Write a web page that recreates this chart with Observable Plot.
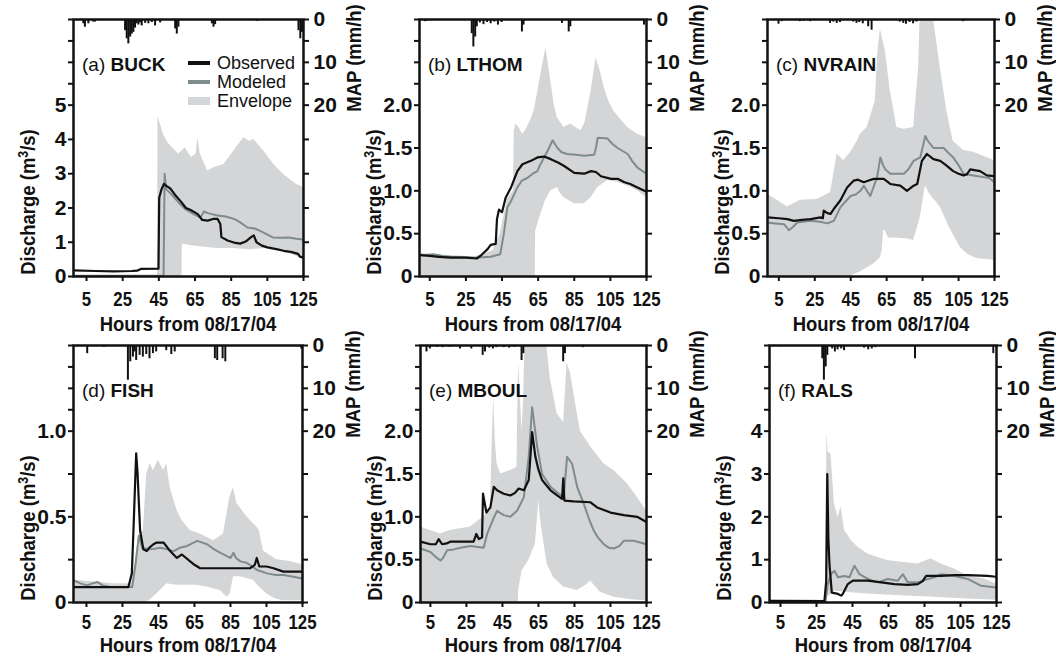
<!DOCTYPE html>
<html><head><meta charset="utf-8">
<script src="https://cdn.jsdelivr.net/npm/d3@7"></script>
<script src="https://cdn.jsdelivr.net/npm/@observablehq/plot@0.6"></script>
<style>
html,body{margin:0;padding:0;background:#fff;}
#wrap{position:relative;width:1056px;height:660px;overflow:hidden;font-family:"Liberation Sans Narrow","Arial Narrow","Liberation Sans",Arial,sans-serif;color:#111;}
#wrap svg{position:absolute;overflow:visible;}
.t{position:absolute;white-space:nowrap;font-weight:bold;font-size:21px;line-height:1;}
.rot{transform:translate(-50%,-50%) rotate(-90deg) scaleX(0.88);}
.ctr{transform:translate(-50%,-50%) scaleX(0.88);}
.pl{position:absolute;white-space:nowrap;font-size:19px;line-height:1;}
.pl b{font-weight:bold;}
.lg{position:absolute;font-size:18px;line-height:1;white-space:nowrap;}
.sw{position:absolute;}
</style></head>
<body><div id="wrap"></div>
<script>
const hourTicks = [5, 25, 45, 65, 85, 105, 125];
const mapTickValues = [0, 5, 10, 15, 20];

// (a) BUCK
const obsA = [[-2.2,0.18],[10,0.16],[20,0.15],[30,0.16],[33,0.17],[35,0.22],[44.8,0.23],[45.2,2.3],[46.5,2.55],[47.8,2.7],[49,2.65],[51.5,2.56],[54,2.38],[57,2.2],[60,2.0],[62.6,1.94],[66.5,1.82],[69,1.65],[72,1.63],[75,1.68],[77.5,1.68],[79,1.53],[79.6,1.15],[83,1.05],[86.5,0.99],[90,0.96],[93,1.02],[96,1.15],[97.5,1.2],[99,1.0],[102,0.9],[105,0.85],[110,0.8],[114,0.75],[118,0.72],[122,0.66],[123,0.58],[125,0.55]];
const modA = [[-2.2,0.02],[47.6,0.02],[48.2,3.0],[49,2.55],[52,2.4],[57,2.1],[60,1.95],[64,1.83],[68,1.72],[70,1.9],[72,1.85],[77.5,1.78],[82,1.75],[86.7,1.68],[90,1.58],[94,1.43],[98,1.4],[101,1.33],[104,1.25],[108,1.14],[112,1.13],[117,1.14],[121,1.1],[125,1.08]];
const envHiA = [[44.3,0],[44.5,4.68],[47.5,4.15],[50,3.9],[52.6,3.76],[56,3.57],[59.5,3.76],[63,3.47],[65.6,3.57],[66.5,4.05],[68,3.57],[72,3.08],[75.6,3.18],[81,3.27],[86.5,3.66],[92,4.05],[95,3.95],[97.5,4.0],[103,3.66],[108.6,3.27],[114,2.98],[121,2.69],[125,2.6]];
const envLoA = [[57.8,0],[58,0.95],[63,0.9],[68,0.87],[77,0.82],[86,0.82],[95,0.78],[104,0.82],[113,0.73],[122,0.58],[125,0.53]];
const mapA = [[3.5,1],[4.4,1.8],[6.3,1],[9,0.6],[10,0.6],[26.6,2.6],[27.5,4.5],[28.4,5.7],[29.4,4.1],[30.3,3.4],[31.2,3],[32.1,2],[33,1],[34,1.3],[35,0.8],[35.8,1.5],[37.7,0.9],[39.5,1],[41.4,0.7],[43.2,1.5],[46,0.8],[54.3,2.2],[55.2,3.4],[56.1,1.8],[74.6,1],[75.5,1.8],[76.4,1.2],[99.5,0.4],[122.5,2.6],[123.5,4.5],[124.4,3]];

// (b) LTHOM
const obsB = [[-0.7,0.25],[5,0.24],[10,0.23],[16.5,0.22],[25,0.22],[31,0.21],[33,0.24],[35,0.28],[37,0.32],[38.7,0.37],[41.5,0.38],[42.2,0.67],[43.3,0.78],[45,0.75],[47,0.92],[50,1.04],[53.5,1.23],[56.3,1.31],[61,1.35],[64.6,1.39],[68.3,1.4],[72,1.37],[76,1.33],[79.4,1.29],[85,1.21],[90.5,1.2],[94.3,1.23],[97,1.22],[99.8,1.17],[105.4,1.14],[109,1.14],[112.8,1.1],[116,1.08],[120,1.04],[125,0.99]];
const modB = [[-0.7,0.25],[3,0.25],[7,0.26],[12,0.24],[16.5,0.23],[30,0.22],[38.7,0.23],[44,0.26],[46,0.5],[48,0.81],[50,0.88],[53.5,1.04],[56,1.12],[59,1.15],[62,1.2],[64.6,1.23],[66,1.3],[68.3,1.39],[71,1.5],[73,1.59],[75.7,1.5],[78,1.45],[81,1.43],[86,1.42],[90.5,1.41],[96,1.42],[97,1.5],[98,1.62],[103.5,1.61],[106,1.55],[109,1.5],[114.6,1.43],[117,1.35],[120,1.27],[125,1.2]];
const envHiB = [[-0.7,0.27],[10,0.25],[30,0.23],[40,0.3],[44,0.5],[48,0.9],[51.3,1.0],[51.8,1.7],[52.6,1.78],[54.4,1.74],[56.3,1.66],[58,1.7],[61,1.83],[63,1.95],[66.5,2.36],[69.3,2.67],[71,2.43],[73.9,2.0],[75.7,1.85],[79.4,1.74],[83,1.78],[88.7,1.7],[91,1.8],[94.3,2.16],[97,2.55],[99,2.43],[101.7,2.2],[104,2.05],[107,1.93],[110,1.85],[114.6,1.74],[120,1.66],[125,1.62]];
const envLoB = [[63.4,0],[63.6,0.53],[66.5,0.73],[69,0.88],[72,1.0],[75.7,1.04],[77,0.98],[79.4,0.92],[85,0.85],[90.5,0.85],[94.3,0.92],[98,1.04],[103.5,1.12],[109,1.1],[116.5,1.04],[120,1.0],[125,0.92]];
const mapB = [[2.6,0.5],[3.5,0.4],[6,0.3],[8,0.3],[28.5,3.3],[29.4,6.4],[30.4,4.1],[31.3,1.7],[33,0.8],[35,1.2],[37,0.7],[39,1.0],[41,0.6],[43,1.3],[45,0.7],[56.3,2.9],[57.2,1.3],[78.5,0.9],[82.2,2.9],[83.1,1.7],[123.9,1.3]];

// (c) NVRAIN
const obsC = [[-1.3,0.69],[5,0.68],[9.7,0.67],[13.4,0.65],[18,0.66],[22.7,0.67],[28.2,0.69],[29.5,0.68],[30,0.77],[32,0.74],[33.8,0.73],[36,0.8],[39.3,0.89],[43,1.04],[46.7,1.12],[49,1.13],[52.3,1.1],[55,1.12],[57.8,1.14],[63.4,1.14],[67,1.08],[72.6,1.06],[76.3,1.0],[80,1.06],[82,1.08],[84.6,1.35],[87.4,1.43],[91,1.37],[94.8,1.35],[98,1.3],[102,1.23],[105,1.2],[107.8,1.18],[109.5,1.19],[111.5,1.25],[117,1.23],[120.7,1.18],[125,1.17]];
const modC = [[-1.3,0.63],[3,0.62],[7.9,0.61],[10.6,0.54],[13,0.58],[15.3,0.63],[22.7,0.65],[28,0.64],[32,0.62],[35.6,0.65],[39.3,0.81],[44.9,0.94],[48,0.96],[50.4,1.0],[52.3,1.06],[54,1.0],[55.9,0.94],[59.7,1.16],[61.5,1.39],[63,1.3],[64.3,1.25],[67,1.2],[70,1.2],[74.5,1.2],[77,1.25],[80,1.35],[83.7,1.39],[86.5,1.64],[88,1.58],[91,1.5],[96.7,1.5],[99,1.45],[102,1.39],[105,1.3],[107.8,1.2],[113.3,1.18],[118.9,1.16],[122,1.15],[125,1.1]];
const envHiC = [[-1.3,0.96],[4.2,0.89],[9.7,0.81],[17.1,0.89],[26.4,0.9],[33.8,0.98],[37.5,1.43],[41.1,1.35],[45,1.45],[48.6,1.58],[50.4,1.66],[54.1,1.74],[58.7,2.05],[60,2.6],[61.5,2.89],[64.3,2.63],[67,2.17],[70.7,1.74],[74.5,1.72],[80,1.74],[82.8,2.44],[84,3.3],[90,3.3],[91,3.02],[94.8,2.44],[98.5,1.93],[102,1.58],[107.8,1.47],[113.3,1.45],[120.7,1.39],[125,1.35]];
const envLoC = [[-1.3,0],[40,0],[45,0.01],[50,0.05],[54,0.1],[58,0.15],[61.5,0.22],[62.5,0.3],[63.4,0.55],[64.5,0.52],[66,0.45],[70,0.45],[76,0.44],[80,0.42],[83.7,0.69],[86.5,1.06],[89,0.96],[94.8,0.81],[100,0.57],[105.9,0.34],[110,0.26],[115,0.21],[125,0.19]];
const mapC = [[5.1,1.1],[6.9,0.5],[17,0.5],[19,0.4],[22.7,0.5],[33.8,0.9],[35.6,0.6],[37.5,0.9],[39.3,0.7],[46.7,0.6],[48.5,0.9],[50,0.7],[52,1.0],[55,1.7],[56.9,2.5],[72.6,0.6],[74.5,0.9],[76,1.1],[78,0.7],[80,1.0],[81.9,0.6],[107.8,0.5]];

// (d) FISH
const obsD = [[-2.2,0.09],[10,0.09],[20,0.09],[28.3,0.09],[30.2,0.17],[31.1,0.42],[32.6,0.87],[33.3,0.77],[34.8,0.42],[36.6,0.31],[38.5,0.3],[40,0.32],[42.2,0.34],[44,0.35],[47.8,0.35],[51.5,0.3],[55.2,0.26],[58,0.28],[62.6,0.24],[65,0.22],[68.1,0.2],[75.6,0.2],[86.7,0.2],[96,0.2],[98.5,0.22],[99.6,0.26],[101,0.21],[105,0.21],[108.9,0.2],[114.4,0.18],[125,0.18]];
const modD = [[-2.2,0.13],[2,0.11],[5.4,0.1],[8,0.11],[11,0.12],[14,0.1],[18.4,0.09],[27.6,0.09],[30.4,0.09],[32.2,0.22],[34.1,0.39],[36,0.32],[40.6,0.31],[46.1,0.32],[50,0.31],[53.5,0.3],[57,0.32],[60.9,0.33],[66.5,0.36],[72,0.34],[76,0.31],[79.4,0.29],[83,0.27],[85,0.26],[86.7,0.29],[88,0.26],[90.6,0.24],[94.3,0.23],[97,0.21],[99.8,0.19],[105.4,0.17],[110,0.16],[114.6,0.16],[120,0.15],[125,0.14]];
const envHiD = [[-2.2,0.13],[10,0.12],[20,0.11],[30,0.11],[31,0.15],[34,0.38],[36.6,0.42],[38.5,0.75],[40.3,0.81],[42.2,0.77],[44.9,0.83],[47.8,0.77],[49.6,0.81],[51.5,0.67],[55.2,0.54],[58,0.48],[62.6,0.42],[68.1,0.4],[75.6,0.36],[81.1,0.4],[84.8,0.62],[86.7,0.67],[88.5,0.58],[94.1,0.5],[99.6,0.44],[101,0.42],[103.3,0.3],[110.7,0.25],[118.1,0.24],[125,0.22]];
const envLoD = [[38,0],[41,0.02],[44,0.05],[47,0.08],[49.6,0.11],[55,0.1],[60.7,0.1],[66,0.1],[72,0.09],[79.4,0.07],[83,0.03],[84.8,0.05],[86.7,0.15],[90.4,0.15],[97.8,0.13],[101,0.09],[105.2,0.05],[110,0.02],[114.4,0.01],[125,0.01]];
const mapD = [[5.7,1.9],[15,0.4],[28.3,8.1],[29.6,3.8],[31.1,2.7],[32,1.5],[32.9,3.5],[34.8,2.3],[36.6,2.7],[38.5,2.1],[40.3,3.1],[42.2,1.9],[44,1.5],[49.6,1.2],[52.4,2.1],[54.3,1.5],[76.6,3.1],[77.9,3.5],[80.9,3.1],[82.4,3.8],[124.6,0.8]];

// (e) MBOUL
const obsE = [[-0.5,0.71],[5,0.68],[8,0.68],[9.6,0.74],[11.5,0.68],[14,0.69],[16,0.71],[22,0.71],[29,0.71],[30.5,0.8],[31.9,0.74],[33.7,0.76],[34.2,1.27],[36.1,1.05],[38.3,1.11],[40.2,1.35],[42,1.31],[45.7,1.27],[49.4,1.25],[52,1.28],[54,1.33],[56.9,1.31],[59.6,1.43],[61.5,1.99],[63.3,1.7],[65,1.55],[67,1.43],[71.7,1.31],[75.4,1.25],[78.1,1.21],[78.8,1.45],[79.4,1.19],[84.6,1.18],[93.9,1.17],[97.6,1.11],[105,1.05],[112.4,1.02],[119.8,1.0],[125,0.94]];
const modE = [[-0.5,0.63],[5,0.59],[8,0.53],[10.6,0.49],[12,0.52],[14.3,0.61],[18,0.62],[21.7,0.64],[27.2,0.66],[34.6,0.64],[36.5,0.8],[40,0.98],[42,1.07],[45.7,1.02],[49.4,1.0],[53.1,1.07],[56.9,1.23],[59.6,1.7],[61.5,2.28],[64.3,1.82],[67,1.5],[71.7,1.35],[76.3,1.27],[79,1.23],[80.9,1.7],[83.7,1.62],[86.5,1.35],[90.2,1.15],[93,0.98],[95.7,0.84],[98,0.76],[101.3,0.68],[104,0.64],[106.9,0.63],[110,0.66],[112.4,0.72],[118,0.72],[125,0.68]];
const envHiE = [[-0.5,0.88],[5,0.84],[10.6,0.8],[16,0.84],[27.2,0.88],[34.6,1.0],[38.3,1.07],[39.5,2.0],[40.2,2.4],[41,1.9],[42,1.62],[44,1.5],[49.4,1.54],[53.1,1.58],[53.6,2.4],[54,2.8],[55.9,2.0],[56.8,2.4],[57.8,3.3],[68,3.3],[71.7,2.6],[75.4,2.2],[79,2.1],[80.9,2.8],[82.8,2.68],[85,2.4],[88.3,2.0],[93.9,1.82],[101.3,1.62],[106.9,1.54],[114.3,1.39],[119.8,1.23],[125,1.07]];
const envLoE = [[53.9,0],[54,0.14],[55.9,0.37],[59.6,0.49],[63.3,0.68],[64.5,1.0],[65.2,1.19],[66,1.0],[67,0.84],[69.8,0.45],[73.5,0.29],[79,0.18],[86.5,0.14],[92,0.21],[93.9,0.25],[96,0.2],[99.4,0.12],[106.9,0.06],[118,0.03],[125,0.02]];
const mapE = [[3.1,1.5],[5,0.8],[9,0.4],[12,0.5],[16,0.4],[21.7,0.8],[28,0.8],[34.3,2.3],[35.6,1.5],[38,0.6],[40,0.8],[42,0.5],[46,0.5],[49,0.6],[52,0.4],[55.9,3.5],[56.9,1.9],[79,3.8],[80,1.9],[90,0.5]];

// (f) RALS
const obsF = [[-1.1,0.04],[29.4,0.03],[30.4,0.5],[31,3.0],[31.6,1.5],[32.2,0.9],[33.5,0.23],[36.9,0.2],[38.7,0.16],[39.6,0.2],[42.4,0.43],[45.2,0.51],[53.5,0.51],[61,0.47],[68.3,0.43],[75.7,0.41],[81.3,0.43],[84,0.5],[85.9,0.62],[94.3,0.62],[101.7,0.64],[109,0.64],[120,0.62],[125,0.6]];
const modF = [[-1.1,0.02],[30,0.02],[31.3,0.43],[33,0.66],[35,0.74],[36.9,0.59],[40.6,0.62],[43.3,0.59],[46.1,0.86],[48.9,0.66],[53.5,0.55],[59,0.47],[64.6,0.55],[70.2,0.51],[73,0.66],[75.7,0.47],[81.3,0.47],[86.9,0.55],[90.6,0.59],[94.3,0.66],[101.7,0.62],[109,0.55],[116.5,0.39],[125,0.35]];
const envHiF = [[-1.1,0.05],[30,0.05],[30.8,3.95],[31.5,3.5],[33,3.48],[35,2.3],[36.9,1.99],[38.7,2.23],[40.6,1.68],[44.3,1.45],[48,1.29],[53.5,1.13],[59,1.05],[64.6,0.98],[72,0.94],[81.3,0.9],[88.7,1.02],[94.3,0.9],[101.7,0.78],[109,0.62],[118.3,0.55],[125,0.43]];
const envLoF = [[30.8,0],[31,0.12],[35,0.27],[44.3,0.23],[53.5,0.2],[72,0.16],[90.6,0.12],[109,0.08],[125,0.05]];
const mapF = [[5,0.3],[28.5,3.1],[29.4,8.1],[30.4,5],[31.3,2.3],[34,0.8],[35.5,1.5],[37,1.0],[39,0.8],[40.6,1.2],[51.7,0.6],[54,1.0],[56,0.8],[58,0.5],[80,3.1],[123.5,1.9]];

const COL_OBS = "#111111", COL_MOD = "#7e8c8c", COL_ENV = "#d4d5d7";
const FONT = '"Liberation Sans Narrow","Arial Narrow","Liberation Sans",Arial,sans-serif';

const fmtInt = d => String(d);
const fmtHalf = d => d === 0 ? "0" : d.toFixed(1);
const fmtD = d => d === 0 ? "0" : (Math.abs(d * 2 - Math.round(d * 2)) < 1e-9 ? d.toFixed(1) : "");

const panels = [
  {tag:"(a)", name:"BUCK", left:0, top:0, ml:73, mr:49, x0:-2.2, L:5, step:1, fmt:fmtInt, obs:obsA, mod:modA, hi:envHiA, lo:envLoA, map:mapA},
  {tag:"(b)", name:"LTHOM", left:352, top:0, ml:67, mr:58, x0:-0.7, L:2, step:0.5, fmt:fmtHalf, obs:obsB, mod:modB, hi:envHiB, lo:envLoB, map:mapB},
  {tag:"(c)", name:"NVRAIN", left:704, top:0, ml:63, mr:62, x0:-1.3, L:2, step:0.5, fmt:fmtHalf, obs:obsC, mod:modC, hi:envHiC, lo:envLoC, map:mapC},
  {tag:"(d)", name:"FISH", left:0, top:326, ml:73, mr:50, x0:-2.2, L:1, step:0.25, fmt:fmtD, obs:obsD, mod:modD, hi:envHiD, lo:envLoD, map:mapD},
  {tag:"(e)", name:"MBOUL", left:352, top:326, ml:68, mr:58, x0:-0.5, L:2, step:0.5, fmt:fmtHalf, obs:obsE, mod:modE, hi:envHiE, lo:envLoE, map:mapE},
  {tag:"(f)", name:"RALS", left:704, top:326, ml:65, mr:60, x0:-1.1, L:4, step:1, fmt:fmtInt, obs:obsF, mod:modF, hi:envHiF, lo:envLoF, map:mapF}
];

const wrap = document.getElementById("wrap");
const W = 352, H = 330, MT = 19, MB = 54;

function addDiv(cls, html, x, y) {
  const d = document.createElement("div");
  d.className = cls; d.innerHTML = html;
  d.style.left = x + "px"; d.style.top = y + "px";
  wrap.appendChild(d); return d;
}

panels.forEach((p, i) => {
  const yTop = p.L * 1.5;
  const k = (yTop - p.L) / 20;
  const toY = m => yTop - m * k;
  const dTicks = d3.range(0, p.L + 1e-9, p.step).map(v => +v.toFixed(4));
  const row = p.top === 0 ? 0 : 1;
  const ax = {tickSize: 5, strokeWidth: 2, stroke: "#111", label: null};
  const chart = Plot.plot({
    width: W, height: H, marginLeft: p.ml, marginRight: p.mr, marginTop: MT, marginBottom: MB,
    x: {domain: [p.x0, 125]},
    y: {domain: [0, yTop]},
    style: {fontFamily: FONT, fontSize: "21px", fontWeight: "bold", color: "#111", background: "transparent"},
    marks: [
      Plot.areaY(p.hi, {x: d => d[0], y: d => d[1], fill: COL_ENV, clip: true}),
      Plot.areaY(p.lo, {x: d => d[0], y: d => d[1], fill: "white", clip: true}),
      Plot.rect(p.map, {x1: d => d[0] - 0.55, x2: d => d[0] + 0.55, y1: yTop, y2: d => toY(d[1]), fill: "#111"}),
      Plot.line(p.mod, {x: d => d[0], y: d => d[1], stroke: COL_MOD, strokeWidth: 2, clip: true}),
      Plot.line(p.obs, {x: d => d[0], y: d => d[1], stroke: COL_OBS, strokeWidth: 2.2, clip: true}),
      Plot.frame({stroke: "#111", strokeWidth: 2.5}),
      Plot.axisX({...ax, ticks: hourTicks, tickFormat: d => String(d), fontSize: 21, tickPadding: row === 0 ? 10 : 7}),
      Plot.axisY({...ax, anchor: "left", ticks: dTicks, tickFormat: p.fmt, fontSize: 21, tickPadding: 2}),
      Plot.axisY({...ax, anchor: "left", ticks: mapTickValues.slice(0, 4).map(toY), tickFormat: () => ""}),
      Plot.axisY({...ax, anchor: "right", ticks: mapTickValues.map(toY), fontSize: 21, tickPadding: 5,
        tickFormat: v => { const m = Math.round((yTop - v) / k); return m % 10 === 0 ? String(m) : ""; }}),
      Plot.axisY({...ax, anchor: "right", ticks: dTicks.slice(0, -1), tickFormat: () => ""})
    ]
  });
  chart.style.left = p.left + "px";
  chart.style.top = p.top + "px";
  wrap.appendChild(chart);
  // condense the hour tick labels (narrow face as in the original)
  chart.querySelectorAll('g[aria-label="x-axis tick label"] text').forEach(t => {
    const tr = t.getAttribute("transform") || "";
    t.setAttribute("transform", tr + " scale(0.8,1)");
  });

  const fx0 = p.left + p.ml, fx1 = p.left + W - p.mr;
  const fy0 = p.top + MT, fy1 = p.top + H - MB;
  addDiv("pl", `${p.tag} <b>${p.name}</b>`, fx0 + 9, fy0 + 36);
  addDiv("t ctr", "Hours from 08/17/04", (fx0 + fx1) / 2, row === 0 ? fy1 + 47 : fy1 + 42);
  addDiv("t rot", "Discharge (m<sup style='font-size:14px;vertical-align:7px;line-height:0'>3</sup>/s)", fx0 - 46, fy1 - 74);
  addDiv("t rot", "MAP (mm/h)", fx1 + 50, fy0 + 39);
});

const legend = [["Observed", COL_OBS, 4], ["Modeled", COL_MOD, 4], ["Envelope", COL_ENV, 8]];
legend.forEach(([lab, col, hgt], j) => {
  const cy = 63 + j * 19;
  const s = document.createElement("div");
  s.className = "sw";
  s.style.cssText = `left:188px;top:${cy - hgt / 2}px;width:22px;height:${hgt}px;background:${col};`;
  wrap.appendChild(s);
  addDiv("lg", lab, 217, cy - 9);
});
</script>
</body></html>
